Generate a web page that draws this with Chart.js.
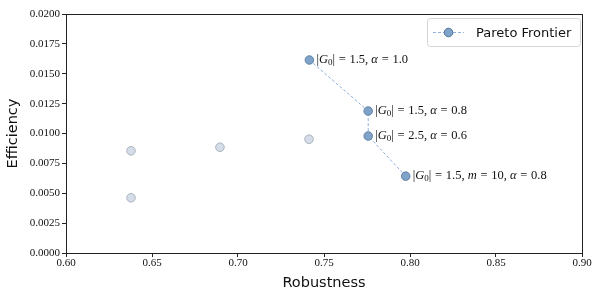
<!DOCTYPE html>
<html>
<head>
<meta charset="utf-8">
<script src="https://cdn.jsdelivr.net/npm/chart.js@4.4.1/dist/chart.umd.min.js"></script>
<style>
  html, body { margin: 0; padding: 0; background: #fff; }
  #wrap { width: 600px; height: 300px; }
</style>
</head>
<body>
<div id="wrap"><canvas id="paretoChart"></canvas></div>
<script>
// pareto frontier points
const paretoRobustness = [0.7415, 0.7757, 0.7757, 0.7975]
const paretoEfficiency = [0.01615, 0.01188, 0.00979, 0.00643]
const paretoLabels = [
    '|G_0| = 1.5, α = 1.0',
    '|G_0| = 1.5, α = 0.8',
    '|G_0| = 2.5, α = 0.6',
    '|G_0| = 1.5, m = 10, α = 0.8'
]
// dominated configurations
const otherRobustness = [0.6378, 0.6378, 0.6895, 0.7413]
const otherEfficiency = [0.00855, 0.00462, 0.00885, 0.00952]

const xTicks = [0.60, 0.65, 0.70, 0.75, 0.80, 0.85, 0.90]
const yTicks = [0.0000, 0.0025, 0.0050, 0.0075, 0.0100, 0.0125, 0.0150, 0.0175, 0.0200]

const lineBlue = '#8fb0d9'
const paretoFill = '#7fa2c9'
const paretoEdge = '#4f7399'
const grayFill = '#d5dde8'
const grayEdge = '#9aa5b3'

const serif = '"Liberation Serif", "DejaVu Serif", serif'
const sans = '"DejaVu Sans", "Lato", sans-serif'

// draws a small math-ish label: letters italic, _x as subscript, wider gaps round '='
function drawMath(ctx, text, x, y, size) {
    let cx = x
    for (let i = 0; i < text.length; i++) {
        let ch = text[i]
        let sub = false
        if (ch === '_') { sub = true; i++; ch = text[i] }
        const italic = /[A-Za-zα]/.test(ch)
        const fs = sub ? size * 0.72 : size
        ctx.font = (italic ? 'italic ' : '') + fs + 'px ' + serif
        if (ch === ' ' && (text[i + 1] === '=' || text[i - 1] === '=')) { cx += size * 0.3; continue }
        ctx.fillText(ch, cx, sub ? y + size * 0.22 : y)
        cx += ctx.measureText(ch).width
    }
}

const extrasPlugin = {
    id: 'extras',
    afterDraw(chart) {
        const { ctx, chartArea: a, scales: { x, y } } = chart
        ctx.save()
        // frame
        ctx.strokeStyle = '#222'
        ctx.lineWidth = 1
        ctx.strokeRect(a.left + 0.5, a.top + 0.5, a.right - a.left, a.bottom - a.top)

        // point annotations
        ctx.fillStyle = '#111'
        ctx.textBaseline = 'middle'
        ctx.textAlign = 'left'
        paretoLabels.forEach((lab, i) => {
            drawMath(ctx, lab, x.getPixelForValue(paretoRobustness[i]) + 7, y.getPixelForValue(paretoEfficiency[i]), 12.5)
        })

        // legend
        const lx = 427, ly = 18, lw = 153, lh = 28
        ctx.beginPath()
        ctx.roundRect(lx + 0.5, ly + 0.5, lw, lh, 3)
        ctx.fillStyle = 'rgba(255,255,255,0.8)'
        ctx.fill()
        ctx.strokeStyle = '#d4d4d4'
        ctx.stroke()
        const my = ly + lh / 2 + 0.5
        ctx.beginPath()
        ctx.setLineDash([3, 2])
        ctx.strokeStyle = lineBlue
        ctx.moveTo(lx + 6, my)
        ctx.lineTo(lx + 37, my)
        ctx.stroke()
        ctx.setLineDash([])
        ctx.beginPath()
        ctx.arc(lx + 21.5, my, 4.3, 0, Math.PI * 2)
        ctx.fillStyle = paretoFill
        ctx.fill()
        ctx.strokeStyle = paretoEdge
        ctx.stroke()
        ctx.fillStyle = '#111'
        ctx.font = '13px ' + sans
        ctx.fillText('Pareto Frontier', lx + 49, my + 1)
        ctx.restore()
    }
}

new Chart('paretoChart', {
    type: 'scatter',
    data: {
        datasets: [
            {
                label: 'Other',
                data: otherRobustness.map((r, i) => ({ x: r, y: otherEfficiency[i] })),
                pointRadius: 4.3,
                pointBackgroundColor: grayFill,
                pointBorderColor: grayEdge,
                pointBorderWidth: 0.8,
            },
            {
                label: 'Pareto Frontier',
                data: paretoRobustness.map((r, i) => ({ x: r, y: paretoEfficiency[i] })),
                showLine: true,
                borderColor: lineBlue,
                borderWidth: 1,
                borderDash: [3, 2],
                pointRadius: 4.3,
                pointBackgroundColor: paretoFill,
                pointBorderColor: paretoEdge,
                pointBorderWidth: 0.8,
            }
        ]
    },
    options: {
        responsive: true,
        maintainAspectRatio: false,
        animation: false,
        layout: { padding: { top: 14, right: 18, left: 0, bottom: 8 } },
        plugins: {
            legend: { display: false },
            tooltip: { enabled: false }
        },
        scales: {
            x: {
                type: 'linear',
                min: 0.6,
                max: 0.9,
                afterBuildTicks: (s) => { s.ticks = xTicks.map(v => ({ value: v })) },
                afterFit: (s) => { s.height = 39 },
                ticks: {
                    color: '#111',
                    font: { family: serif, size: 11 },
                    padding: 0,
                    maxRotation: 0,
                    callback: (v) => v.toFixed(2)
                },
                grid: { drawOnChartArea: false, tickLength: 4, color: '#222' },
                border: { color: '#222' },
                title: {
                    display: true,
                    text: 'Robustness',
                    color: '#111',
                    font: { family: sans, size: 14.5 },
                    padding: { top: 0, bottom: 0 }
                }
            },
            y: {
                type: 'linear',
                min: 0,
                max: 0.02,
                afterBuildTicks: (s) => { s.ticks = yTicks.map(v => ({ value: v })) },
                afterFit: (s) => { s.width = 66 },
                ticks: {
                    color: '#111',
                    font: { family: serif, size: 11 },
                    padding: 2,
                    callback: (v) => v.toFixed(4)
                },
                grid: { drawOnChartArea: false, tickLength: 4, color: '#222' },
                border: { color: '#222' },
                title: {
                    display: true,
                    text: 'Efficiency',
                    color: '#111',
                    font: { family: sans, size: 14.5 },
                    padding: { top: 5, bottom: 0 }
                }
            }
        }
    },
    plugins: [extrasPlugin]
})
</script>
</body>
</html>
